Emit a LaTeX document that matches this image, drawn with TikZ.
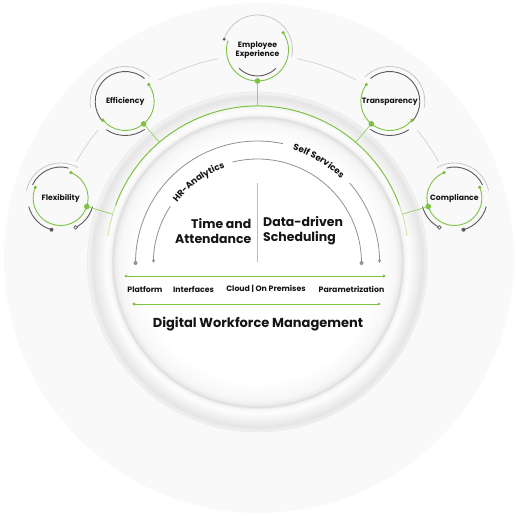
\documentclass[tikz,border=0pt]{standalone}
\usepackage{fontspec}
\setmainfont{Poppins}
\usetikzlibrary{calc,arrows.meta,decorations.text}
\definecolor{grn}{HTML}{7DC242}
\definecolor{grnl}{HTML}{C9E6AC}
\definecolor{grnv}{HTML}{A9D47E}
\definecolor{dgray}{HTML}{5A5A5A}
\definecolor{mgray}{HTML}{8E9393}
\definecolor{lgray}{HTML}{C8C8C8}
\definecolor{ogray}{HTML}{D6D6D6}
\definecolor{txt}{HTML}{151515}
\definecolor{bgc}{HTML}{F9F9F9}
\definecolor{rA}{HTML}{FFFFFF}
\definecolor{rB}{HTML}{F7F7F7}
\definecolor{rC}{HTML}{EDEDED}
\definecolor{rD}{HTML}{DCDCDC}
\definecolor{rE}{HTML}{F5F5F5}
\definecolor{rF}{HTML}{FDFDFD}
\definecolor{rG}{HTML}{F2F2F2}
\definecolor{rH}{HTML}{E5E5E5}
\definecolor{rI}{HTML}{F4F4F4}
\pgfdeclareradialshading{ringshade}{\pgfpoint{0bp}{0bp}}{%
 color(0bp)=(rA); color(17.6bp)=(rA); color(20.3bp)=(rB); color(21bp)=(rC);
 color(21.3bp)=(rD); color(21.6bp)=(rE); color(22.2bp)=(rF);
 color(23.2bp)=(rG); color(24.3bp)=(rH); color(25bp)=(rI); color(50bp)=(rI)}
\newcommand\arcfont{\color{txt}\bfseries\fontsize{8.8}{9}\selectfont}
\begin{document}
\begin{tikzpicture}[x=1pt,y=1pt,
  sat/.style={font=\bfseries\fontsize{7.7}{9.3}\selectfont, text=txt, align=center, inner sep=0},
  lab/.style={font=\bfseries\fontsize{7.8}{9}\selectfont, text=txt, inner sep=0},
  big/.style={font=\bfseries\fontsize{12.5}{15}\selectfont, text=txt, inner sep=0},
  garc/.style={grn, line width=0.9pt},
  darc/.style={dgray, line width=0.9pt},
  larc/.style={lgray, line width=0.8pt},
  orb/.style={ogray, line width=0.8pt},
  conn/.style={grn!75!white, line width=0.8pt},
  grayarc/.style={mgray, line width=0.8pt},
  tip/.style={-{Triangle[length=3.2pt,width=3.2pt]}},
]
\useasboundingbox (0,0) rectangle (516,516);
\fill[white] (0,0) rectangle (516,516);
\fill[bgc] (259,258) circle (255);
\coordinate (C) at (257.5,254);
\coordinate (C2) at (257.5,253);
\coordinate (G) at (257.5,259);
% main ring
\shade[shading=ringshade] (C) circle (170);
\draw[rH, line width=0.4pt] (C) circle (170);
% main green arc
\draw[grnl, line width=1pt] (G) ++(172:151) arc[start angle=172,end angle=160,radius=151];
\draw[grn, line width=1pt] (G) ++(160:151) arc[start angle=160,end angle=20,radius=151];
\draw[grnl, line width=1pt] (G) ++(20:151) arc[start angle=20,end angle=8,radius=151];
% orbit arcs
\draw[orb] (C) ++(151:207) arc[start angle=151,end angle=140.5,radius=207];
\draw[orb] (C) ++(118.5:207) arc[start angle=118.5,end angle=101,radius=207];
\draw[orb] (C) ++(79:207) arc[start angle=79,end angle=61.5,radius=207];
\draw[orb] (C) ++(39.5:207) arc[start angle=39.5,end angle=29,radius=207];
% satellites
\node[sat] (EE) at ($(C)+(90:212)$) {Employee\\Experience};
\node[sat] (Eff) at ($(C)+(129.5:208)$) {Efficiency};
\node[sat] (Flex) at ($(C)+(162:207)$) {Flexibility};
\node[sat] (Tr) at ($(C)+(50.5:208)$) {Transparency};
\node[sat] (Comp) at ($(C)+(18:207)$) {Compliance};
% EE rings
\draw[larc] (EE) ++(162:35) arc[start angle=162,end angle=-12,radius=35];
\fill[dgray] (EE) ++(162:35) circle (1.6);
\draw[garc] (EE) ++(34:31) arc[start angle=34,end angle=-198,radius=31];
\fill[grn] (EE) ++(34:31) circle (1.8);
\draw[darc] (EE) ++(225:26) arc[start angle=225,end angle=315,radius=26];
\coordinate (EEd) at ($(EE)+(270:31)$);
% Eff rings
\draw[larc] (Eff) ++(190:35) arc[start angle=190,end angle=45,radius=35];
\draw[darc] (Eff) ++(50:30) arc[start angle=50,end angle=222,radius=30];
\draw[darc] (Eff) ++(236:34) arc[start angle=236,end angle=305,radius=34];
\draw[garc] (Eff) ++(36:29) arc[start angle=36,end angle=-140,radius=29];
\fill[grn] (Eff) ++(36:29) circle (1.8);
\fill[grn] (Eff) ++(-140:29) circle (1.8);
\coordinate (Effd) at ($(Eff)+(309.5:29)$);
% Tr rings
\draw[larc] (Tr) ++(-10:35) arc[start angle=-10,end angle=135,radius=35];
\draw[darc] (Tr) ++(130:30) arc[start angle=130,end angle=-42,radius=30];
\draw[darc] (Tr) ++(304:34) arc[start angle=304,end angle=235,radius=34];
\draw[garc] (Tr) ++(144:29) arc[start angle=144,end angle=320,radius=29];
\fill[grn] (Tr) ++(144:29) circle (1.8);
\fill[grn] (Tr) ++(320:29) circle (1.8);
\coordinate (Trd) at ($(Tr)+(230.5:29)$);
% Flex rings
\draw[larc] (Flex) ++(168:35) arc[start angle=168,end angle=60,radius=35];
\draw[darc] (Flex) ++(155:31) arc[start angle=155,end angle=75,radius=31];
\draw[darc] (Flex) ++(254:33) arc[start angle=254,end angle=195,radius=33];
\draw[darc] (Flex) ++(297:33) arc[start angle=297,end angle=345,radius=33];
\fill[dgray] (Flex) ++(254:33) circle (2);
\draw[dgray, fill=white, line width=0.7pt] (Flex) ++(297:33) circle (1.8);
\draw[garc] (Flex) ++(68:27.5) arc[start angle=68,end angle=-203,radius=27.5];
\fill[grn] (Flex) ++(68:27.5) circle (1.8);
\fill[grn] (Flex) ++(-203:27.5) circle (1.8);
\coordinate (Flexd) at ($(Flex)+(342:27.5)$);
% Comp rings
\draw[larc] (Comp) ++(12:35) arc[start angle=12,end angle=120,radius=35];
\draw[darc] (Comp) ++(25:31) arc[start angle=25,end angle=105,radius=31];
\draw[darc] (Comp) ++(286:33) arc[start angle=286,end angle=345,radius=33];
\draw[darc] (Comp) ++(243:33) arc[start angle=243,end angle=195,radius=33];
\fill[dgray] (Comp) ++(286:33) circle (2);
\draw[dgray, fill=white, line width=0.7pt] (Comp) ++(243:33) circle (1.8);
\draw[garc] (Comp) ++(112:27.5) arc[start angle=112,end angle=383,radius=27.5];
\fill[grn] (Comp) ++(112:27.5) circle (1.8);
\fill[grn] (Comp) ++(383:27.5) circle (1.8);
\coordinate (Compd) at ($(Comp)+(198:27.5)$);
% connectors
\draw[conn] (EEd) -- ($(G)!151pt!(EEd)$);
\draw[conn] (Effd) -- ($(G)!151pt!(Effd)$);
\draw[conn] (Trd) -- ($(G)!151pt!(Trd)$);
\draw[conn] (Flexd) -- ($(G)!151pt!(Flexd)$);
\draw[conn] (Compd) -- ($(G)!151pt!(Compd)$);
\foreach \d in {EEd,Effd,Trd,Flexd,Compd} \fill[grn] (\d) circle (2.8);
% inner gray arcs
\draw[grayarc] (C2) ++(180:122) arc[start angle=180,end angle=78,radius=122];
\draw[grayarc,tip] (C2) ++(41:122) arc[start angle=41,end angle=0,radius=122];
\fill[mgray] (C2) ++(180:122) circle (2);
\draw[grayarc] (C2) ++(0:104) arc[start angle=0,end angle=104,radius=104];
\draw[grayarc,tip] (C2) ++(147:104) arc[start angle=147,end angle=180,radius=104];
\fill[mgray] (C2) ++(0:104) circle (2);
\path[decorate,decoration={text along path,text align=center,text={|\arcfont|HR-Analytics}}]
  (C2) ++(152:100.5) arc[start angle=152,end angle=100,radius=100.5];
\path[decorate,decoration={text along path,text align=center,text={|\arcfont|Self Services}}]
  (C2) ++(79:118.5) arc[start angle=79,end angle=39,radius=118.5];
% vertical green divider
\draw[grnv, line width=1pt] (257.5,333) -- (257.5,254);
% center texts
\node[big, anchor=east, align=right] (TA) at (251.5,285) {Time and\\Attendance};
\node[big, anchor=west, align=left] (DS) at (263,285) {Data-driven\\Scheduling};
% arrows
\coordinate (a1) at (126,240); \coordinate (a2) at (386,240);
\draw[grn, line width=0.8pt, tip] (a1) -- (a2);
\fill[grn] (a1) circle (1.3);
\coordinate (b1) at (379,212); \coordinate (b2) at (132,212);
\draw[grn, line width=0.8pt, tip] (b1) -- (b2);
\fill[grn] (b1) circle (1.3);
\node[lab] (p1) at (145,227) {Platform};
\node[lab] (p2) at (193.5,227) {Interfaces};
\node[lab] (p3) at (266,227) {Cloud | On Premises};
\node[lab] (p4) at (351.5,227) {Parametrization};
\node[font=\bfseries\fontsize{13}{15}\selectfont, text=txt, inner sep=0] (DWM) at (258,192) {Digital Workforce Management};
\end{tikzpicture}
\end{document}
